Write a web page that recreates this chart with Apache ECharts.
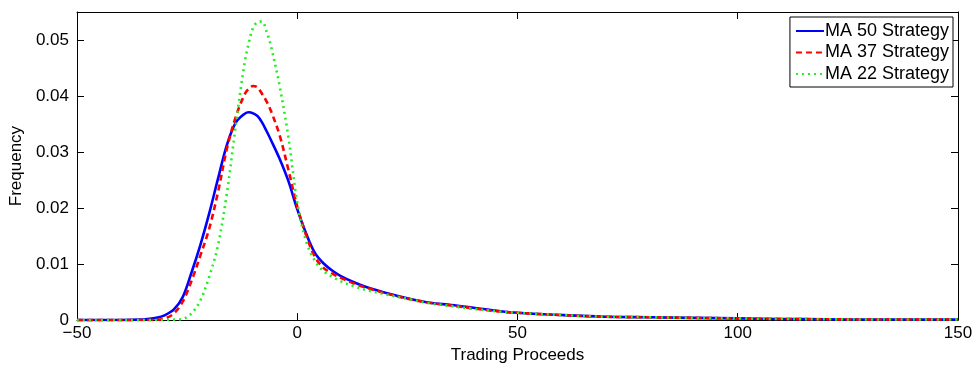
<!DOCTYPE html>
<html>
<head>
<meta charset="utf-8">
<script src="https://cdn.jsdelivr.net/npm/echarts@6/dist/echarts.min.js"></script>
<style>
  html, body { margin: 0; padding: 0; background: #fff; }
  #chart { width: 976px; height: 369px; }
</style>
</head>
<body>
<div id="chart"></div>
<script>
// ---- data ----
var proceeds = [-50,-40,-36,-34,-32,-30,-28,-26,-24,-22,-20,-18,-16,-14,-12,-11,-10,-9,-8,-7,-6,-4,-2,0,2,4,6,8,10,13,16,20,25,30,35,40,45,50,60,70,80,90,100,110,120,130,140,150];

var ma50 = [0,0.00002,0.00008,0.0002,0.0004,0.0009,0.0019,0.0041,0.0085,0.0134,0.0190,0.0252,0.0312,0.0352,0.0368,0.0371,0.0369,0.0364,0.0353,0.0338,0.0322,0.0288,0.0248,0.0198,0.0155,0.0120,0.0101,0.0088,0.0078,0.0067,0.0058,0.0049,0.0039,0.0031,0.0027,0.0022,0.0017,0.0013,0.0009,0.0006,0.0005,0.0004,0.0003,0.0002,0.00015,0.0001,0.0001,0.0001];

var ma37 = [0,0,0.00001,0.00002,0.00005,0.0003,0.0012,0.0033,0.0070,0.0115,0.0163,0.0228,0.0305,0.0362,0.0402,0.0413,0.0418,0.0415,0.0404,0.0391,0.0374,0.0330,0.0268,0.0203,0.0152,0.0113,0.0093,0.0083,0.0075,0.0065,0.0057,0.0048,0.0038,0.0031,0.0026,0.0021,0.0016,0.0013,0.0009,0.0006,0.0005,0.0004,0.0003,0.0002,0.00015,0.0001,0.0001,0.0001];

var ma22 = [0,0,0,0,0.00001,0.00003,0.00008,0.0002,0.0012,0.0035,0.0077,0.0133,0.0225,0.0345,0.0457,0.0495,0.0522,0.0532,0.0533,0.0516,0.0490,0.0418,0.0326,0.0210,0.0141,0.0106,0.0087,0.0077,0.0069,0.0060,0.0053,0.0046,0.0038,0.0030,0.0025,0.0020,0.0016,0.0013,0.0009,0.0006,0.0005,0.0004,0.0003,0.0002,0.00015,0.0001,0.0001,0.0001];

var seriesNames = ['MA 50 Strategy', 'MA 37 Strategy', 'MA 22 Strategy'];
var xTicks = [-50, 0, 50, 100, 150];
var yTicks = [0, 0.01, 0.02, 0.03, 0.04, 0.05];

function pairs(ys) { return proceeds.map(function (x, i) { return [x, ys[i]]; }); }

var FONT = "'Liberation Sans', Arial, Helvetica, sans-serif";
var chart = echarts.init(document.getElementById('chart'), null, { renderer: 'canvas' });

function axisLine() { return { show: true, onZero: false, lineStyle: { color: '#000', width: 1 } }; }
var tickIn = { show: true, inside: true, length: 7, lineStyle: { color: '#000', width: 1 } };

chart.setOption({
  animation: false,
  backgroundColor: '#fff',
  grid: { left: 71.5, right: 18, top: 12, bottom: 42.5, containLabel: false },
  legend: {
    orient: 'vertical',
    right: 23, top: 17,
    padding: [5, 4, 4, 5],
    itemGap: 3.5,
    itemWidth: 28, itemHeight: 16,
    backgroundColor: '#fff',
    borderColor: '#000', borderWidth: 1,
    itemStyle: { opacity: 0 },
    textStyle: { fontFamily: FONT, fontSize: 18, color: '#000', padding: [0, 0, 0, -4] },
    data: seriesNames
  },
  xAxis: [{
    type: 'value', min: -50, max: 150, interval: 50, position: 'bottom',
    name: 'Trading Proceeds', nameLocation: 'middle', nameGap: 23,
    nameTextStyle: { fontFamily: FONT, fontSize: 17, color: '#000' },
    axisLine: axisLine(), axisTick: tickIn, splitLine: { show: false },
    axisLabel: { fontFamily: FONT, fontSize: 17, color: '#000', margin: 5,
      formatter: function (v) { return xTicks.indexOf(v) < 0 ? '' : (v < 0 ? '\u2212' + (-v) : String(v)); } }
  }, {
    type: 'value', min: -50, max: 150, interval: 50, position: 'top',
    axisLine: axisLine(), axisTick: tickIn, axisLabel: { show: false }, splitLine: { show: false }
  }],
  yAxis: [{
    type: 'value', min: 0, max: 0.055, interval: 0.01, position: 'left',
    name: 'Frequency', nameLocation: 'middle', nameGap: 43,
    nameTextStyle: { fontFamily: FONT, fontSize: 17, color: '#000' },
    axisLine: axisLine(), axisTick: tickIn, splitLine: { show: false },
    axisLabel: { fontFamily: FONT, fontSize: 17, color: '#000', margin: 8, showMaxLabel: false,
      formatter: function (v) {
        for (var i = 0; i < yTicks.length; i++) {
          if (Math.abs(v - yTicks[i]) < 1e-9) return yTicks[i] === 0 ? '0' : yTicks[i].toFixed(2);
        }
        return '';
      } }
  }, {
    type: 'value', min: 0, max: 0.055, interval: 0.01, position: 'right',
    axisLine: axisLine(), axisTick: tickIn, axisLabel: { show: false }, splitLine: { show: false }
  }],
  series: [{
    name: seriesNames[0], type: 'line', xAxisIndex: 0, yAxisIndex: 0,
    data: pairs(ma50), showSymbol: false, symbol: 'none', smooth: 0.35,
    lineStyle: { color: '#0000ff', width: 2.6, type: 'solid' }, itemStyle: { color: '#0000ff' }
  }, {
    name: seriesNames[1], type: 'line', xAxisIndex: 0, yAxisIndex: 0,
    data: pairs(ma37), showSymbol: false, symbol: 'none', smooth: 0.35,
    lineStyle: { color: '#ff0000', width: 2.6, type: [6, 4] }, itemStyle: { color: '#ff0000' }
  }, {
    name: seriesNames[2], type: 'line', xAxisIndex: 0, yAxisIndex: 0,
    data: pairs(ma22), showSymbol: false, symbol: 'none', smooth: 0.35,
    lineStyle: { color: '#22ee22', width: 2.6, type: [2, 4] }, itemStyle: { color: '#22ee22' }
  }]
});
</script>
</body>
</html>
